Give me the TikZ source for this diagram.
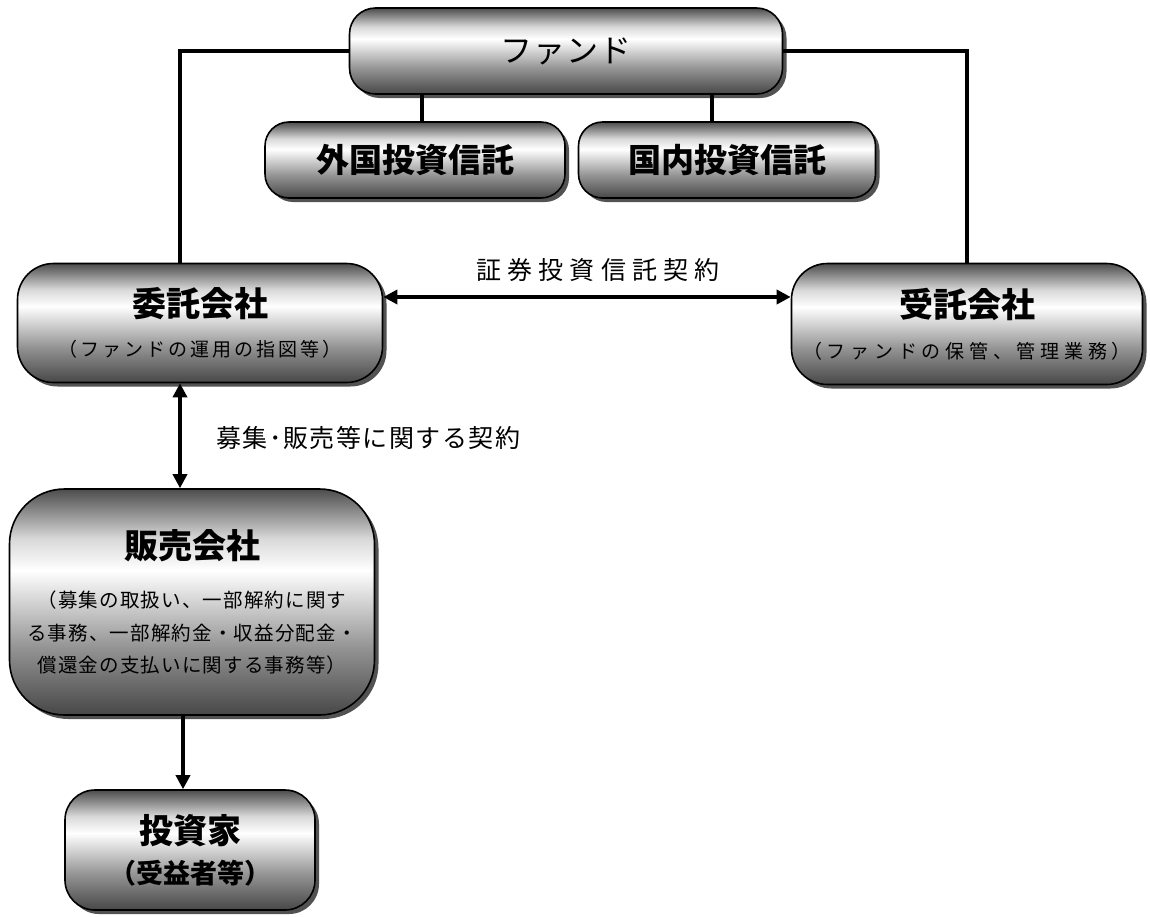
\documentclass[tikz,border=0pt]{standalone}
\usepackage{fontspec}
\setmainfont{Noto Sans CJK JP}
\newfontfamily\jpfont{Noto Sans CJK JP}
\usetikzlibrary{shadows,arrows.meta}
\pgfdeclareverticalshading{boxshade}{100bp}{color(0bp)=(black!72); color(25bp)=(black!72); color(40bp)=(black!42); color(57bp)=(white); color(64bp)=(black!15); color(75bp)=(black!70); color(100bp)=(black!70)}
\tikzset{
  gbox/.style={draw=black, line width=1.6pt, shading=boxshade, rounded corners=#1,
    drop shadow={shadow xshift=4pt, shadow yshift=-4pt, fill=black!75, opacity=0.9},
    inner sep=0pt, align=center, text=black},
  gbox/.default=28pt,
  link/.style={line width=3.4pt, draw=black},
  arr/.style={line width=3.4pt, draw=black, {Triangle[length=14pt,width=14pt]}-{Triangle[length=14pt,width=14pt]}},
  arrone/.style={line width=3.4pt, draw=black, -{Triangle[length=14pt,width=14pt]}},
  lbl/.style={inner sep=0pt}
}
\newcommand{\ttl}{\fontsize{34pt}{38pt}\selectfont\bfseries}
\newcommand{\sub}[1]{\fontsize{19pt}{22pt}\selectfont\addfontfeature{LetterSpace=#1}}
\newcommand{\hsub}{\fontsize{19.5pt}{22pt}\selectfont\addfontfeature{LetterSpace=6}}
\begin{document}
\begin{tikzpicture}[x=1pt,y=-1pt]
\useasboundingbox (0,0) rectangle (1150,916);
\fill[white] (0,0) rectangle (1150,916);
% boxes
\node[gbox=26pt, minimum width=433pt, minimum height=86pt] (fund) at (566,51)
  {\fontsize{32pt}{36pt}\selectfont\addfontfeature{LetterSpace=4}ファンド};
\node[gbox=24pt, minimum width=300pt, minimum height=76pt] (foreign) at (415,160)
  {\fontsize{33pt}{36pt}\selectfont\bfseries 外国投資信託};
\node[gbox=24pt, minimum width=297pt, minimum height=76pt] (domestic) at (727,160)
  {\fontsize{33pt}{36pt}\selectfont\bfseries 国内投資信託};
\node[gbox=36pt, minimum width=365pt, minimum height=119pt] (itaku) at (200,323)
  {{\ttl 委託会社}\\[20pt]{\sub{16}（ファンドの運用の指図等）}};
\node[gbox=36pt, minimum width=351pt, minimum height=121pt] (jutaku) at (967,324)
  {{\ttl 受託会社}\\[20pt]{\sub{25}（ファンドの保管、管理業務）}};
\node[gbox=55pt, minimum width=365pt, minimum height=226pt] (hanbai) at (192,602)
  {{\ttl 販売会社}\\[28pt]{\hsub （募集の取扱い、一部解約に関す}\\[13pt]{\hsub る事務、一部解約金・収益分配金・}\\[13pt]{\hsub 償還金の支払いに関する事務等）}};
\node[gbox=30pt, minimum width=250pt, minimum height=120pt] (investor) at (190,850)
  {{\ttl 投資家}\\[12pt]{\fontsize{27pt}{30pt}\selectfont\bfseries （受益者等）}};
% helper coordinates
\coordinate (lx) at (180,0);
\coordinate (fl) at (422,0);
\coordinate (fr) at (712,0);
\coordinate (ay) at (0,297);
\coordinate (bx) at (183,0);
% links
\draw[link] (fund.west) -| (itaku.north -| lx);
\draw[link] (fund.east) -| (jutaku.north);
\draw[link] (fund.south -| fl) -- (foreign.north -| fl);
\draw[link] (fund.south -| fr) -- (domestic.north -| fr);
\draw[arr] (itaku.east |- ay) -- (jutaku.west |- ay);
\draw[arr] (itaku.south -| lx) -- (hanbai.north -| lx);
\draw[arrone] (hanbai.south -| bx) -- (investor.north -| bx);
% labels
\node[lbl, font=\fontsize{25pt}{28pt}\selectfont\addfontfeature{LetterSpace=25}] (l1) at (598,270) {証券投資信託契約};
\node[lbl, anchor=west, font=\fontsize{25pt}{28pt}\selectfont\addfontfeature{LetterSpace=6}] (l2) at (216,438) {募集･販売等に関する契約};
\end{tikzpicture}
\end{document}
